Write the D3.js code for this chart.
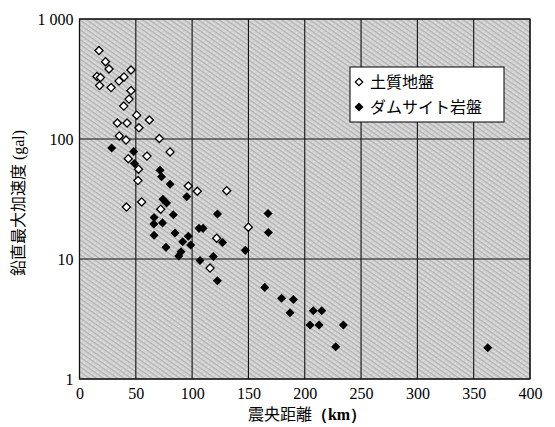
<!DOCTYPE html>
<meta charset="utf-8">
<style>
  body { margin: 0; background: #fff; }
  svg text { fill: #000; }
</style>
<svg width="555" height="427"></svg>
<script src="https://d3js.org/d3.v7.min.js"></script>
<script>

// 土質地盤 (open diamonds): [epicentral distance km, peak vertical accel gal]
var soilDist = [17.3, 23.1, 26.2, 45.7, 15.5, 18.6, 17.8, 28.0, 35.1, 39.5, 45.7, 44.0,
                39.3, 50.8, 62.0, 33.6, 42.2, 52.8, 35.3, 41.3, 70.9, 80.4, 43.3, 59.9,
                52.4, 51.9, 96.6, 104.6, 130.7, 41.7, 55.2, 72.1, 121.8, 149.9, 115.9];
var soilAcc  = [546, 441, 383, 376, 332, 325, 279, 268, 304, 329, 253, 215,
                188, 158, 144, 136, 136, 124, 106, 98, 101, 78, 68.5, 72,
                56, 45, 40.6, 36.7, 37.1, 27.1, 29.9, 26, 14.9, 18.4, 8.4];

// ダムサイト岩盤 (filled diamonds)
var rockDist = [28.6, 48.1, 48.8, 71.5, 72.8, 80.4, 95.2, 74.1, 77.3, 83.3, 66.2, 73.7,
                66.0, 122.5, 167.4, 106.1, 109.7, 66.2, 84.8, 96.6, 127.0, 91.6, 98.7,
                76.8, 90.1, 88.1, 147.2, 118.8, 107.0, 122.4, 167.7, 164.5, 179.4, 189.9,
                186.9, 207.6, 215.1, 204.7, 212.7, 234.3, 227.5, 362.5];
var rockAcc  = [84, 78.7, 62.5, 54.8, 48.5, 42, 33, 31.4, 29.3, 23.4, 22.2, 20,
                19.6, 23.7, 23.9, 18, 18, 15.8, 16.5, 15.5, 13.7, 13.9, 13.1,
                12.5, 11.5, 10.6, 11.8, 10.5, 9.7, 6.6, 16.6, 5.8, 4.7, 4.6,
                3.57, 3.7, 3.7, 2.82, 2.82, 2.82, 1.86, 1.82];

var xTicks = [0, 50, 100, 150, 200, 250, 300, 350, 400];
var yTicks = [1, 10, 100, 1000];
var yTickLabels = ["1", "10", "100", "1 000"];
var legendLabels = ["土質地盤", "ダムサイト岩盤"];
var xTitle = ["震央距離", "（km）"],
    yTitle = ["鉛直最大加速度", " (gal)"];

var cjk = "'Noto Sans CJK JP', sans-serif",
    serif = "'Liberation Serif', serif";

var svg = d3.select("svg"),
    margin = {left: 79.5, right: 25, top: 19, bottom: 48},
    width = 555 - margin.left - margin.right,
    height = 427 - margin.top - margin.bottom;

var x = d3.scaleLinear().domain([0, 400]).range([0, width]);
var y = d3.scaleLog().domain([1, 1000]).range([height, 0]);

// screened grey background
var defs = svg.append("defs");
var pat = defs.append("pattern")
    .attr("id", "screen")
    .attr("patternUnits", "userSpaceOnUse")
    .attr("width", 4).attr("height", 4)
    .attr("patternTransform", "rotate(35)");
pat.append("rect").attr("width", 4).attr("height", 4).attr("fill", "#d4d4d4");
pat.append("rect").attr("width", 4).attr("height", 1.2).attr("fill", "#b0b0b0");
pat.append("rect").attr("x", 1).attr("y", 2.4).attr("width", 1).attr("height", 1).attr("fill", "#eeeeee");

var g = svg.append("g").attr("transform", "translate(" + margin.left + "," + margin.top + ")");

g.append("rect")
    .attr("width", width).attr("height", height)
    .attr("fill", "url(#screen)");

// grid
g.selectAll(".vgrid").data(xTicks).enter().append("line")
    .attr("x1", function(d) { return x(d); }).attr("x2", function(d) { return x(d); })
    .attr("y1", 0).attr("y2", height)
    .attr("stroke", "#111").attr("stroke-width", 1.1);
g.selectAll(".hgrid").data(yTicks).enter().append("line")
    .attr("y1", function(d) { return y(d); }).attr("y2", function(d) { return y(d); })
    .attr("x1", 0).attr("x2", width)
    .attr("stroke", "#111").attr("stroke-width", 1.1);

g.append("rect")
    .attr("width", width).attr("height", height)
    .attr("fill", "none").attr("stroke", "#111").attr("stroke-width", 1.2);

// axes
var xAxis = g.append("g")
    .attr("transform", "translate(0," + height + ")")
    .call(d3.axisBottom(x).tickValues(xTicks).tickSize(0).tickPadding(9));
var yAxis = g.append("g")
    .call(d3.axisLeft(y).tickValues(yTicks).tickSize(0).tickPadding(6)
      .tickFormat(function(d, i) { return yTickLabels[i]; }));
[xAxis, yAxis].forEach(function(a) {
  a.select(".domain").remove();
  a.selectAll("text")
    .style("font-family", serif)
    .style("font-size", "16px");
});

// points
g.selectAll(".rock").data(d3.range(rockDist.length)).enter().append("path")
    .attr("d", d3.symbol().type(d3.symbolDiamond2).size(52))
    .attr("transform", function(i) { return "translate(" + x(rockDist[i]) + "," + y(rockAcc[i]) + ")"; })
    .attr("fill", "#000");

g.selectAll(".soil").data(d3.range(soilDist.length)).enter().append("path")
    .attr("d", d3.symbol().type(d3.symbolDiamond2).size(42))
    .attr("transform", function(i) { return "translate(" + x(soilDist[i]) + "," + y(soilAcc[i]) + ")"; })
    .attr("fill", "#fff").attr("stroke", "#000").attr("stroke-width", 1.3);

// legend
var leg = svg.append("g").attr("transform", "translate(350,67)");
leg.append("rect").attr("width", 154).attr("height", 55)
    .attr("fill", "#fff").attr("stroke", "#000").attr("stroke-width", 1);
legendLabels.forEach(function(t, i) {
  var cy = 15 + i * 25;
  leg.append("path")
      .attr("d", d3.symbol().type(d3.symbolDiamond2).size(i ? 52 : 36))
      .attr("transform", "translate(9," + cy + ")")
      .attr("fill", i ? "#000" : "#fff")
      .attr("stroke", "#000").attr("stroke-width", i ? 0 : 1.2);
  leg.append("text")
      .attr("x", 20).attr("y", cy).attr("dy", "0.36em")
      .style("font-family", cjk)
      .style("font-size", "16px")
      .text(t);
});

// titles
function title(sel, parts, bold) {
  sel.attr("text-anchor", "middle").style("font-size", "16px");
  sel.append("tspan").style("font-family", cjk).text(parts[0]);
  sel.append("tspan").style("font-family", serif)
      .style("font-weight", bold ? "bold" : "normal").text(parts[1]);
}

title(svg.append("text")
    .attr("x", 307).attr("y", 414).attr("dy", "0.35em"), xTitle, true);

title(svg.append("text")
    .attr("transform", "translate(18,203) rotate(-90)")
    .attr("dy", "0.35em"), yTitle, false);

</script>
